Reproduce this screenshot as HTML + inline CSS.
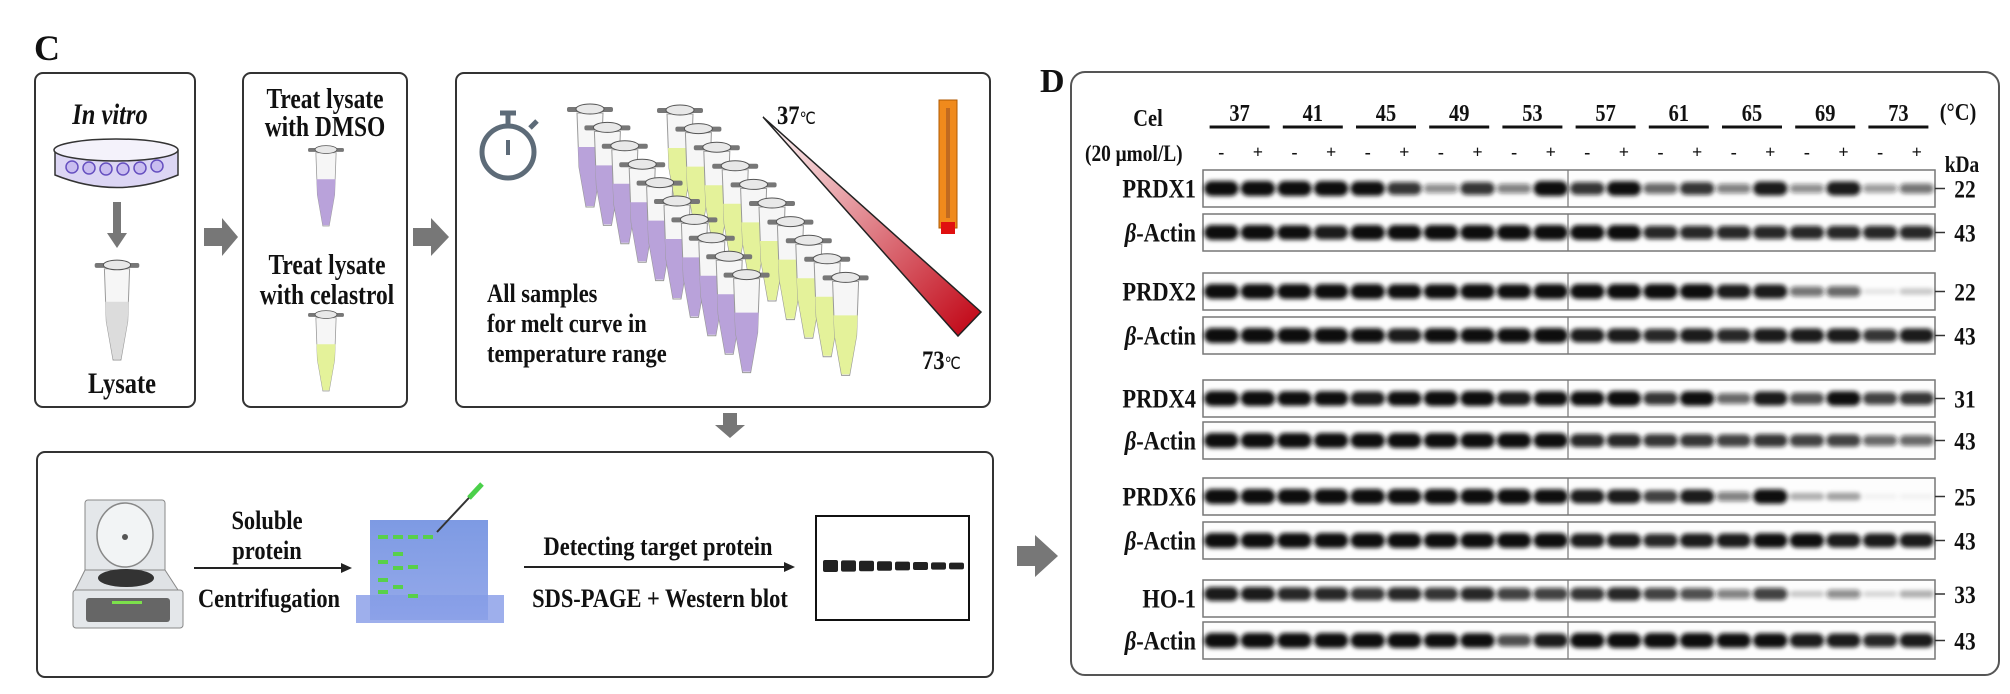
<!DOCTYPE html>
<html><head><meta charset="utf-8"><style>
html,body{margin:0;padding:0;background:#fff;}
svg{display:block;}
text{font-family:"Liberation Serif",serif;font-weight:bold;fill:#111;}
</style></head><body>
<svg id="fig" width="2010" height="694" viewBox="0 0 2010 694" xmlns="http://www.w3.org/2000/svg">
<defs>
<filter id="blur" x="-20%" y="-80%" width="140%" height="260%"><feGaussianBlur stdDeviation="2.2"/></filter>
<linearGradient id="tri" x1="0" y1="0" x2="1" y2="1"><stop offset="0" stop-color="#fff"/><stop offset="1" stop-color="#c00010"/></linearGradient>
<linearGradient id="gel" x1="0" y1="0" x2="0" y2="1"><stop offset="0" stop-color="#6f8fe0"/><stop offset="1" stop-color="#8aa0e8"/></linearGradient>
</defs>

<!-- Panel C -->
<text x="34" y="60" font-size="36">C</text>
<rect x="35" y="73" width="160" height="334" rx="8" fill="none" stroke="#333" stroke-width="2"/>
<rect x="243" y="73" width="164" height="334" rx="8" fill="none" stroke="#333" stroke-width="2"/>
<rect x="456" y="73" width="534" height="334" rx="8" fill="none" stroke="#333" stroke-width="2"/>
<rect x="37" y="452" width="956" height="225" rx="8" fill="none" stroke="#333" stroke-width="2"/>

<text x="110" y="124" font-size="24" font-style="italic" text-anchor="middle">In vitro</text>
<g>
<path d="M55 150 L55 175 Q117 200 178 175 L178 150" fill="#dcd6f4" stroke="#333" stroke-width="1.5"/>
<ellipse cx="116" cy="150" rx="62" ry="11" fill="#f4f2fb" stroke="#333" stroke-width="1.5"/>
<g fill="#c9bdf0" stroke="#6650c0" stroke-width="1.5">
<circle cx="72" cy="167" r="6"/><circle cx="89" cy="168" r="6"/><circle cx="106" cy="169" r="6"/><circle cx="123" cy="169" r="6"/><circle cx="140" cy="168" r="6"/><circle cx="157" cy="166" r="6"/></g>
</g>
<g><rect x="113" y="202" width="8" height="34" fill="#777"/><polygon points="107,233 127,233 117,248" fill="#777"/></g>
<text x="122" y="393" font-size="24" text-anchor="middle">Lysate</text>
<text x="325" y="108" font-size="23" text-anchor="middle">Treat lysate</text>
<text x="325" y="136" font-size="23" text-anchor="middle">with DMSO</text>
<text x="327" y="274" font-size="23" text-anchor="middle">Treat lysate</text>
<text x="327" y="304" font-size="23" text-anchor="middle">with celastrol</text>
<g><polygon points="204,228 222,228 222,218 238,237 222,256 222,246 204,246" fill="#777"/></g>
<g><polygon points="413,228 431,228 431,218 449,237 431,256 431,246 413,246" fill="#777"/></g>

<g fill="none" stroke="#5d6b78" stroke-width="5">
<circle cx="508" cy="152" r="26"/><line x1="508" y1="126" x2="508" y2="114"/><line x1="500" y1="113" x2="516" y2="113"/><line x1="530" y1="128" x2="537" y2="121"/><line x1="508" y1="140" x2="508" y2="155" stroke-width="4"/></g>
<text x="777" y="124" font-size="22">37<tspan font-size="14" font-weight="normal">℃</tspan></text>
<polygon points="763,117 981,312 958,336" fill="url(#tri)" stroke="#222" stroke-width="1.5"/>
<text x="922" y="369" font-size="22">73<tspan font-size="14" font-weight="normal">℃</tspan></text>
<g><rect x="939" y="100" width="18" height="128" fill="#f08a1c" stroke="#b05a00"/><rect x="946" y="108" width="4" height="110" fill="#c06a20"/><rect x="941" y="222" width="14" height="12" fill="#e01010"/></g>
<g id="tubes"></g>
<text x="487" y="302" font-size="22">All samples</text>
<text x="487" y="332" font-size="22">for melt curve in</text>
<text x="487" y="362" font-size="22">temperature range</text>
<g><polygon points="723,413 737,413 737,425 745,425 730,438 715,425 723,425" fill="#777"/></g>

<g>
<rect x="85" y="500" width="80" height="75" rx="3" fill="#e4e7ea" stroke="#888"/>
<ellipse cx="125" cy="535" rx="28" ry="32" fill="#f2f4f5" stroke="#888" stroke-width="1.5"/>
<circle cx="125" cy="537" r="3" fill="#555"/>
<path d="M75 590 L85 570 L165 570 L178 590 Z" fill="#dfe2e5" stroke="#888"/>
<ellipse cx="126" cy="578" rx="28" ry="9" fill="#333"/>
<rect x="73" y="590" width="110" height="38" rx="3" fill="#e4e7ea" stroke="#888"/>
<rect x="86" y="598" width="84" height="24" rx="3" fill="#666"/>
<rect x="112" y="601" width="30" height="3" fill="#7ce04b"/>
</g>
<text x="267" y="529" font-size="22" text-anchor="middle">Soluble</text>
<text x="267" y="559" font-size="22" text-anchor="middle">protein</text>
<g><line x1="194" y1="568" x2="344" y2="568" stroke="#222" stroke-width="2"/><polygon points="341,563 352,568 341,573" fill="#222"/></g>
<text x="269" y="607" font-size="22" text-anchor="middle">Centrifugation</text>
<g>
<rect x="356" y="595" width="148" height="28" fill="#93a6ea" opacity="0.9"/>
<rect x="370" y="520" width="118" height="100" fill="url(#gel)" opacity="0.9"/>
<g fill="#58d04a"><rect x="378" y="535" width="10" height="4"/><rect x="393" y="535" width="10" height="4"/><rect x="408" y="535" width="10" height="4"/><rect x="423" y="535" width="10" height="4"/><rect x="378" y="560" width="10" height="4"/><rect x="393" y="552" width="10" height="4"/><rect x="393" y="566" width="10" height="4"/><rect x="378" y="578" width="10" height="4"/><rect x="378" y="590" width="10" height="4"/><rect x="408" y="565" width="10" height="4"/><rect x="393" y="585" width="10" height="4"/><rect x="408" y="594" width="10" height="4"/></g>
<line x1="437" y1="532" x2="480" y2="486" stroke="#333" stroke-width="2"/><line x1="469" y1="498" x2="482" y2="484" stroke="#4bd04a" stroke-width="5"/>
</g>
<text x="658" y="555" font-size="22" text-anchor="middle">Detecting target protein</text>
<g><line x1="524" y1="567" x2="786" y2="567" stroke="#222" stroke-width="2"/><polygon points="784,562 795,567 784,572" fill="#222"/></g>
<text x="660" y="607" font-size="22" text-anchor="middle">SDS-PAGE + Western blot</text>
<rect x="816" y="516" width="153" height="104" fill="#fff" stroke="#111" stroke-width="2"/>
<g id="thumbBands"></g>
<g><polygon points="1017,546 1035,546 1035,535 1058,556 1035,577 1035,566 1017,566" fill="#777"/></g>

<!-- Panel D -->
<text x="1040" y="92" font-size="34">D</text>
<rect x="1071" y="72" width="928" height="603" rx="14" fill="none" stroke="#555" stroke-width="2"/>
<text x="1148" y="126" font-size="20" text-anchor="middle">Cel</text>
<text x="1085" y="161" font-size="19">(20 μmol/L)</text>
<text x="1958" y="120" font-size="20" text-anchor="middle">(°C)</text>
<text x="1962" y="172" font-size="19" text-anchor="middle">kDa</text>
<g id="header"></g>
<g id="blots"></g>
</svg>
<script>
const NS="http://www.w3.org/2000/svg";
const temps=["37","41","45","49","53","57","61","65","69","73"];
const rowLabels=["PRDX1","β-Actin","PRDX2","β-Actin","PRDX4","β-Actin","PRDX6","β-Actin","HO-1","β-Actin"];
const kdaLabels=["22","43","22","43","31","43","25","43","33","43"];
const prdx1=[1,1,1,1,.95,.8,.45,.8,.5,1,.8,.95,.6,.8,.5,.9,.45,.9,.4,.55];
const actin1=[1,1,.95,.9,1,1,1,1,1,1,1,1,.85,.85,.85,.85,.85,.85,.85,.85];
const prdx2=[1,1,1,1,1,.95,.95,1,.95,1,1,1,1,1,.9,.9,.55,.6,.1,.2];
const actin2=[1,1,1,1,.95,.9,.95,.95,.95,1,.9,.9,.85,.9,.85,.9,.9,.9,.8,.9];
const prdx4=[1,1,.95,.95,.9,.95,1,1,.9,.95,.95,1,.8,.95,.6,.9,.7,.95,.75,.8];
const actin4=[1,1,1,1,1,1,1,1,1,1,.85,.85,.8,.8,.75,.8,.75,.75,.6,.6];
const prdx6=[1,1,1,1,1,1,1,1,1,.95,.9,.9,.75,.9,.5,.95,.3,.35,.05,.05];
const actin6=[1,1,1,1,1,1,1,1,1,1,.9,.9,.85,.9,.9,.95,.95,.9,.9,.9];
const ho1=[.9,.9,.85,.85,.8,.85,.8,.85,.75,.75,.8,.85,.75,.7,.5,.75,.2,.45,.15,.3];
const actinH=[1,1,1,1,1,1,.95,.95,.7,.9,1,1,1,1,.95,.95,.9,.9,.85,.9];
const thumbValues=[1,.9,.8,.7,.6,.5,.4,.35];
const rowValues=[prdx1,actin1,prdx2,actin2,prdx4,actin4,prdx6,actin6,ho1,actinH];

const stripX0=1203, stripX1=1935;
const stripTops=[170,214,273,317,380,422,478,522,580,622];
const stripH=37;
const laneW=(stripX1-stripX0)/20;
const laneX=i=>stripX0+laneW*(i+0.5);
const bandH=v=>4+11*v;

function mk(tag,attrs,parent){const e=document.createElementNS(NS,tag);for(const k in attrs)e.setAttribute(k,attrs[k]);parent.appendChild(e);return e;}

const header=document.getElementById('header');
temps.forEach((t,i)=>{
  const cx=(laneX(2*i)+laneX(2*i+1))/2;
  const tx=mk('text',{x:cx,y:121,'font-size':20,'text-anchor':'middle'},header);
  tx.textContent=t;
  
  
  const ln=mk('line',{x1:cx-30,x2:cx+30,y1:127,y2:127,stroke:'#111','stroke-width':3},header);
  
  
});
for(let i=0;i<20;i++){
  const s=mk('text',{x:laneX(i),y:158,'font-size':18,'font-weight':'normal','text-anchor':'middle'},header);
  s.textContent=i%2?'+':'-';
  
  
}

const blots=document.getElementById('blots');
rowValues.forEach((vals,r)=>{
  const top=stripTops[r];
  const g=mk('g',{},blots);
  
  
  const lab=mk('text',{x:1196,y:top+stripH/2+9,'font-size':22,'text-anchor':'end'},g);
  lab.textContent=rowLabels[r];
  if(rowLabels[r].startsWith('β')){lab.innerHTML='<tspan font-style="italic">β</tspan>-Actin';}
  
  
  const st=mk('rect',{x:stripX0,y:top,width:stripX1-stripX0,height:stripH,fill:'#fdfdfd',stroke:'#777','stroke-width':1.5},g);
  
  
  const bg=mk('g',{filter:'url(#blur)'},g);
  const cy=r===8?top+14:top+stripH/2;
  vals.forEach((v,i)=>{
    const h=bandH(v);
    const b=mk('rect',{x:laneX(i)-laneW*0.47,y:cy-h/2,width:laneW*0.94,height:h,rx:h/2,fill:'#111','fill-opacity':Math.min(1,v*1.05)},bg);
    
    
  });
  const dv=mk('line',{x1:1568,x2:1568,y1:top,y2:top+stripH,stroke:'#777','stroke-width':1.2},g);
  
  
  mk('line',{x1:stripX1,x2:stripX1+10,y1:cy,y2:cy,stroke:'#333','stroke-width':1.5},g);
  const kd=mk('text',{x:1965,y:cy+9,'font-size':21,'text-anchor':'middle'},g);
  kd.textContent=kdaLabels[r];
  
  
});

const tb=document.getElementById('thumbBands');
thumbValues.forEach((v,i)=>{
  const h=4+8*v;
  const b=mk('rect',{x:823+i*18,y:566-h/2,width:15,height:h,rx:2,fill:'#222'},tb);
  
  
});

const tubes=document.getElementById('tubes');
function tube(x,y,liq,parent,s){
  s=s||1;
  const g=mk('g',{transform:`translate(${x},${y}) scale(${s})`},parent);
  mk('path',{d:'M-13 6 L13 6 L11 60 L4 100 L-4 100 L-11 60 Z',fill:'#f6f6f6',stroke:'#999','stroke-width':1},g);
  mk('path',{d:'M-12 40 L12 40 L11 60 L4 99 L-4 99 L-11 60 Z',fill:liq,stroke:'none'},g);
  mk('rect',{x:-23,y:0,width:46,height:5,rx:2,fill:'#777'},g);
  mk('ellipse',{cx:0,cy:2,rx:14,ry:5,fill:'#e8e8e8',stroke:'#555'},g);
  return g;
}
for(let i=0;i<10;i++){
  tube(680+i*18.4,108+i*18.6,'#e4f29a',tubes);
  tube(590+i*17.4,107+i*18.4,'#b9a2da',tubes);
}
tube(117,263,'#dcdcdc',tubes,0.97);
tube(326,148,'#b9a2da',tubes,0.78);
tube(326,313,'#e4f29a',tubes,0.78);

// condensed tall text like Times condensed in reference
document.querySelectorAll('text').forEach(t=>{
  const fs=parseFloat(t.getAttribute('font-size'));
  if(!fs||t.textContent.length<2) return;
  const w=t.getComputedTextLength();
  t.setAttribute('font-size',(fs*1.22).toFixed(1));
  t.querySelectorAll('tspan[font-size]').forEach(s=>s.setAttribute('font-size',(parseFloat(s.getAttribute('font-size'))*1.2).toFixed(1)));
  t.setAttribute('textLength',(w*1.02).toFixed(1));
  t.setAttribute('lengthAdjust','spacingAndGlyphs');
});
</script>
</body></html>
